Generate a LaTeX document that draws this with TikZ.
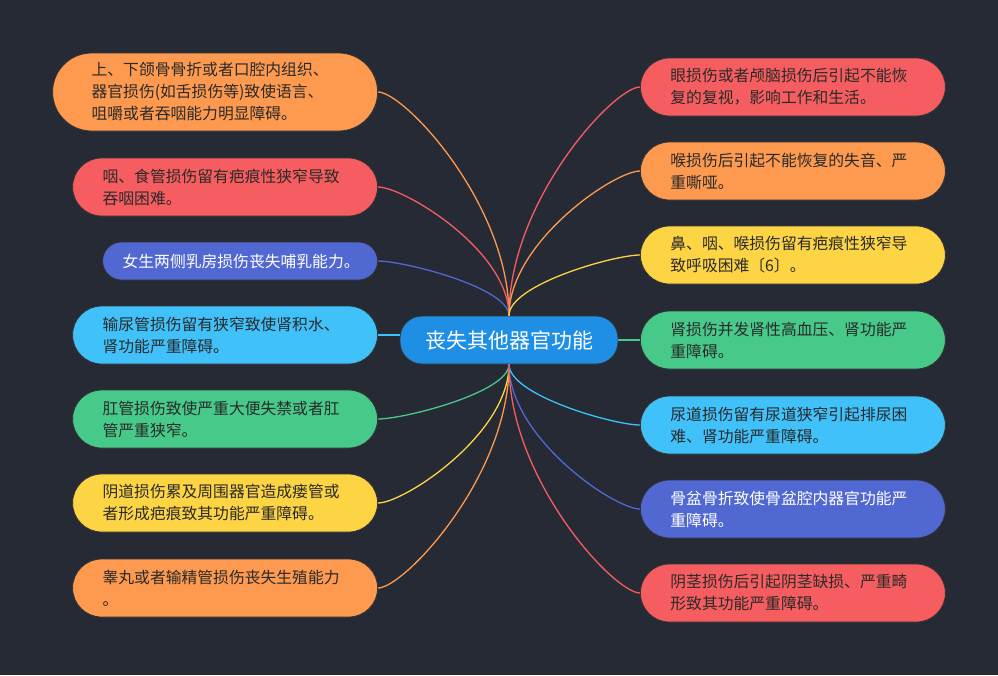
\documentclass[tikz,border=0pt]{standalone}
\usepackage{fontspec}
\newfontfamily\cjk{Noto Sans CJK SC}
\usepackage{tikz}
\definecolor{bgdark}{HTML}{262A35}
\definecolor{borange}{HTML}{FD9A4F}
\definecolor{bred}{HTML}{F65D60}
\definecolor{bpurple}{HTML}{5168D3}
\definecolor{bcyan}{HTML}{40C1FA}
\definecolor{bgreen}{HTML}{47C98A}
\definecolor{byellow}{HTML}{FDD444}
\definecolor{bblue}{HTML}{1E8FE5}
\definecolor{txt}{HTML}{2A2A2A}
\tikzstyle{every picture}+=[font=\cjk]

\begin{document}
\begin{tikzpicture}
	[x=1pt, y=-1pt,
	topic/.style	= {rectangle, fill=bblue, draw=black!80, line width=0.8pt, text=white, minimum width=218pt, minimum height=48pt, rounded corners=22pt, inner sep=0pt, font=\cjk\fontsize{21}{24}\selectfont},
	leaf/.style		= {rectangle, draw=black!80, line width=0.8pt, text=txt, align=left, inner ysep=0pt, font=\cjk\fontsize{15.8}{22}\selectfont},
	oneline/.style	= {leaf, minimum height=38pt, rounded corners=19pt, inner xsep=20pt, text width=235pt},
	twoline/.style	= {leaf, minimum height=58pt, rounded corners=29pt, inner xsep=30pt, text width=245pt},
	threeline/.style= {leaf, minimum height=78pt, rounded corners=39pt, inner xsep=39pt, text width=247pt},
	branch/.style	= {line width=1.3pt}]
	
	\fill [bgdark] (0, 0) rectangle (998, 675);
	\useasboundingbox (0, 0) rectangle (998, 675);
	
	\node at (509, 340)	[topic]		(root)	{丧失其他器官功能};
	
	% left side
	\node at (378, 92)	[threeline, anchor=east, fill=borange]	(l1)	{上、下颌骨骨折或者口腔内组织、\\器官损伤(如舌损伤等)致使语言、\\咀嚼或者吞咽能力明显障碍。};
	\node at (378, 187)	[twoline, anchor=east, fill=bred]		(l2)	{咽、食管损伤留有疤痕性狭窄导致\\吞咽困难。};
	\node at (378, 261)	[oneline, anchor=east, fill=bpurple, text=white]	(l3)	{女生两侧乳房损伤丧失哺乳能力。};
	\node at (378, 335)	[twoline, anchor=east, fill=bcyan]		(l4)	{输尿管损伤留有狭窄致使肾积水、\\肾功能严重障碍。};
	\node at (378, 419)	[twoline, anchor=east, fill=bgreen]		(l5)	{肛管损伤致使严重大便失禁或者肛\\管严重狭窄。};
	\node at (378, 503)	[twoline, anchor=east, fill=byellow]	(l6)	{阴道损伤累及周围器官造成瘘管或\\者形成疤痕致其功能严重障碍。};
	\node at (378, 588)	[twoline, anchor=east, fill=borange]	(l7)	{睾丸或者输精管损伤丧失生殖能力\\。};
	
	% right side
	\node at (640, 87)	[twoline, anchor=west, fill=bred]		(r1)	{眼损伤或者颅脑损伤后引起不能恢\\复的复视，影响工作和生活。};
	\node at (640, 171)	[twoline, anchor=west, fill=borange]	(r2)	{喉损伤后引起不能恢复的失音、严\\重嘶哑。};
	\node at (640, 255)	[twoline, anchor=west, fill=byellow]	(r3)	{鼻、咽、喉损伤留有疤痕性狭窄导\\致呼吸困难〔6〕。};
	\node at (640, 340)	[twoline, anchor=west, fill=bgreen]		(r4)	{肾损伤并发肾性高血压、肾功能严\\重障碍。};
	\node at (640, 425)	[twoline, anchor=west, fill=bcyan]		(r5)	{尿道损伤留有尿道狭窄引起排尿困\\难、肾功能严重障碍。};
	\node at (640, 509)	[twoline, anchor=west, fill=bpurple, text=white]	(r6)	{骨盆骨折致使骨盆腔内器官功能严\\重障碍。};
	\node at (640, 593)	[twoline, anchor=west, fill=bred]		(r7)	{阴茎损伤后引起阴茎缺损、严重畸\\形致其功能严重障碍。};
	
	\draw [branch, borange] (root.north) .. controls +(0,-112) and +(26,0) .. (l1.east);
	\draw [branch, bred]	(root.north) .. controls +(0,-65) and +(26,0) .. (l2.east);
	\draw [branch, bpurple] (root.north) .. controls +(0,-28) and +(26,0) .. (l3.east);
	\draw [branch, bcyan]	(l4.east -| root.west) -- (l4.east);
	\draw [branch, bgreen]	(root.south) .. controls +(0,28) and +(26,0) .. (l5.east);
	\draw [branch, byellow] (root.south) .. controls +(0,70) and +(26,0) .. (l6.east);
	\draw [branch, borange] (root.south) .. controls +(0,112) and +(26,0) .. (l7.east);
	
	\draw [branch, bred]	(root.north) .. controls +(0,-115) and +(-26,0) .. (r1.west);
	\draw [branch, borange] (root.north) .. controls +(0,-73) and +(-26,0) .. (r2.west);
	\draw [branch, byellow] (root.north) .. controls +(0,-31) and +(-26,0) .. (r3.west);
	\draw [branch, bgreen]	(root.east) -- (r4.west);
	\draw [branch, bcyan]	(root.south) .. controls +(0,31) and +(-26,0) .. (r5.west);
	\draw [branch, bpurple] (root.south) .. controls +(0,73) and +(-26,0) .. (r6.west);
	\draw [branch, bred]	(root.south) .. controls +(0,115) and +(-26,0) .. (r7.west);
\end{tikzpicture}
\end{document}
